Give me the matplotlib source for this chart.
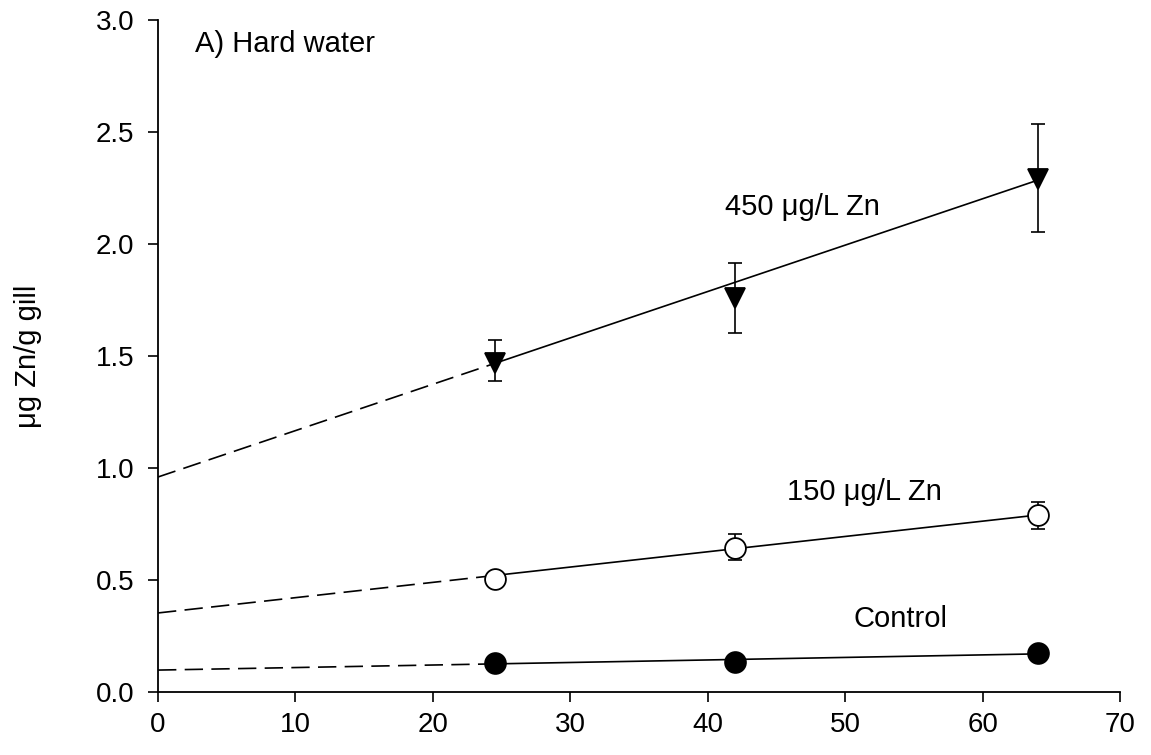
import matplotlib
matplotlib.use("Agg")
import matplotlib.pyplot as plt
import numpy as np

plt.rcParams['font.family'] = ['Liberation Sans', 'DejaVu Sans']

# Exposure time (days) and gill zinc concentrations
days = [24.5, 42, 64]

control_mean = [0.13, 0.134, 0.174]
control_err_lo = [0.0, 0.0, 0.0]
control_err_hi = [0.0, 0.0, 0.0]

zn150_mean = [0.505, 0.645, 0.79]
zn150_err_lo = [0.0, 0.055, 0.06]
zn150_err_hi = [0.0, 0.06, 0.06]

zn450_mean = [1.47, 1.76, 2.29]
zn450_err_lo = [0.08, 0.157, 0.236]
zn450_err_hi = [0.10, 0.155, 0.246]

# Linear regressions (intercept, slope)
control_fit = (0.098, 0.00113)
zn150_fit = (0.353, 0.00683)
zn450_fit = (0.96, 0.0207)

x_ticks = [0, 10, 20, 30, 40, 50, 60, 70]
y_ticks = [0.0, 0.5, 1.0, 1.5, 2.0, 2.5, 3.0]

fig = plt.figure(figsize=(11.51, 7.55), dpi=100)
ax = fig.add_axes([0.1373, 0.0834, 0.8358, 0.8901])

series = [
    (control_mean, control_err_lo, control_err_hi, control_fit, 'o', 'black'),
    (zn150_mean, zn150_err_lo, zn150_err_hi, zn150_fit, 'o', 'white'),
    (zn450_mean, zn450_err_lo, zn450_err_hi, zn450_fit, 'v', 'black'),
]

for mean, lo, hi, fit, mk, fc in series:
    b0, b1 = fit
    x_dash = np.array([0, days[0]])
    x_solid = np.array([days[0], days[-1]])
    ax.plot(x_dash, b0 + b1 * x_dash, color='black', lw=1.2,
            linestyle=(0, (11, 5)), zorder=2)
    ax.plot(x_solid, b0 + b1 * x_solid, color='black', lw=1.2, zorder=2)
    ax.errorbar(days, mean, yerr=[lo, hi], fmt='none', ecolor='black',
                elinewidth=1.2, capsize=5, capthick=1.2, zorder=3)
    ax.plot(days, mean, linestyle='none', marker=mk, markersize=15,
            markerfacecolor=fc, markeredgecolor='black', markeredgewidth=1.3,
            zorder=4)

ax.text(46.9, 2.165, '450 \u03bcg/L Zn', fontsize=21, ha='center', va='center')
ax.text(51.4, 0.893, '150 \u03bcg/L Zn', fontsize=21, ha='center', va='center')
ax.text(54.0, 0.326, 'Control', fontsize=21, ha='center', va='center')
ax.text(2.7, 2.895, 'A) Hard water', fontsize=21, ha='left', va='center')

ax.set_xlim(0, 70)
ax.set_ylim(0, 3.0)
ax.set_xticks(x_ticks)
ax.set_yticks(y_ticks)
ax.set_xticklabels([str(t) for t in x_ticks])
ax.set_yticklabels([f'{t:.1f}' for t in y_ticks])
ax.tick_params(direction='out', length=7.2, width=1.2, labelsize=20)
ax.tick_params(axis='x', pad=7)
ax.tick_params(axis='y', pad=10)
ax.set_ylabel('\u03bcg Zn/g gill', fontsize=21)
ax.yaxis.set_label_coords(-0.121, 0.5)

for side in ('top', 'right'):
    ax.spines[side].set_visible(False)
for side in ('left', 'bottom'):
    ax.spines[side].set_linewidth(1.3)

fig.savefig('out.png', dpi=100)
